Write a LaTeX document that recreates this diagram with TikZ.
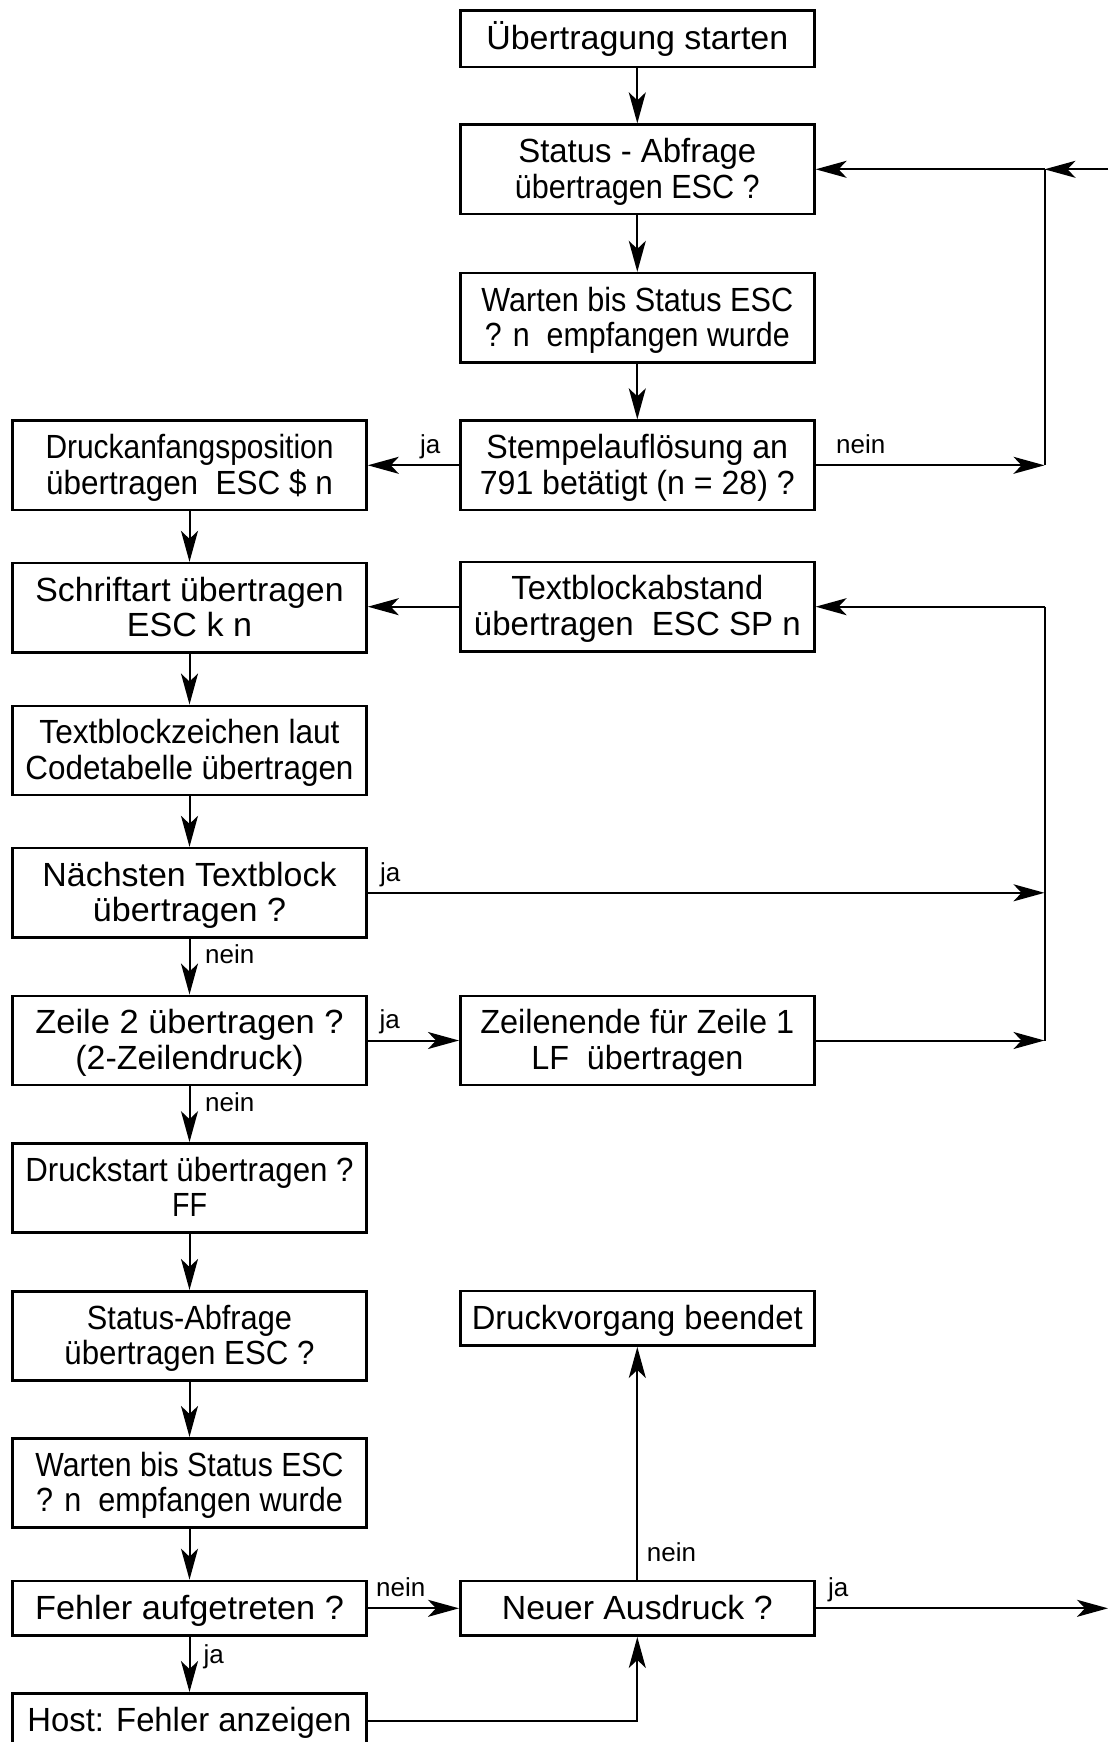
\documentclass[tikz,border=0pt]{standalone}
\usepackage{graphicx}
\usepackage{fontspec}
\setmainfont{Liberation Sans}
\usetikzlibrary{arrows.meta}
\newcommand\bt[1]{\begin{tabular}{@{}c@{}}\rule{0pt}{32.6pt}#1\end{tabular}}
\newcommand\fw[2]{\resizebox{#1pt}{\height}{#2}}
\tikzset{
  flowbox/.style={draw, line width=2.6pt, rectangle, minimum width=354pt,
    minimum height=89.3pt, inner sep=0pt, font=\fontsize{33.5}{35.5}\selectfont},
  conn/.style={line width=2pt},
  connarr/.style={line width=2pt, -{Stealth[length=31pt,width=17pt,inset=8pt]}},
  lbl/.style={inner sep=0pt, anchor=base west, font=\fontsize{26}{30}\selectfont}
}
\begin{document}
\begin{tikzpicture}[x=1pt,y=-1pt]
\fill[white] (0,0) rectangle (1108,1742);
\useasboundingbox (0,0) rectangle (1108,1742);
% boxes
\node[flowbox, minimum height=56.4pt] (start) at (637.3,38.9) {\bt{\fw{302}{Übertragung starten}}};
\node[flowbox] (stat1) at (637.3,169.3) {\bt{\fw{238}{Status - Abfrage}\\\fw{245}{übertragen ESC ?}}};
\node[flowbox] (wait1) at (637.3,317.8) {\bt{\fw{311.7}{Warten bis Status ESC}\\\fw{305}{? n~~empfangen wurde}}};
\node[flowbox] (stempel) at (637.3,465.3) {\bt{\fw{301.7}{Stempelauflösung an}\\\fw{315}{791 betätigt (n = 28) ?}}};
\node[flowbox] (druckanf) at (189.5,465.3) {\bt{\fw{288}{Druckanfangsposition}\\\fw{286.7}{übertragen~~ESC \$ n}}};
\node[flowbox] (schrift) at (189.5,607.8) {\bt{\fw{308.3}{Schriftart übertragen}\\\fw{125}{ESC k n}}};
\node[flowbox] (textabst) at (637.3,606.7) {\bt{\fw{251.7}{Textblockabstand}\\\fw{326.7}{übertragen~~ESC SP n}}};
\node[flowbox] (textz) at (189.5,750.5) {\bt{\fw{300}{Textblockzeichen laut}\\\fw{328}{Codetabelle übertragen}}};
\node[flowbox] (naechst) at (189.5,892.8) {\bt{\fw{294}{Nächsten Textblock}\\\fw{193.3}{übertragen ?}}};
\node[flowbox] (zeile2) at (189.5,1040.5) {\bt{\fw{308.3}{Zeile 2 übertragen ?}\\\fw{228.3}{(2-Zeilendruck)}}};
\node[flowbox] (zende) at (637.3,1040.5) {\bt{\fw{314}{Zeilenende für Zeile 1}\\\fw{212}{LF~~übertragen}}};
\node[flowbox] (dstart) at (189.5,1188.1) {\bt{\fw{328.3}{Druckstart übertragen ?}\\\fw{35}{FF}}};
\node[flowbox] (stat2) at (189.5,1335.9) {\bt{\fw{205}{Status-Abfrage}\\\fw{250}{übertragen ESC ?}}};
\node[flowbox, minimum height=54.7pt] (dende) at (637.3,1318.3) {\bt{\fw{331}{Druckvorgang beendet}}};
\node[flowbox] (wait2) at (189.5,1482.9) {\bt{\fw{308}{Warten bis Status ESC}\\\fw{306.7}{? n~~empfangen wurde}}};
\node[flowbox, minimum height=54.7pt] (fehler) at (189.5,1608.3) {\bt{\fw{308.8}{Fehler aufgetreten ?}}};
\node[flowbox, minimum height=54.7pt] (neuer) at (637.3,1608.3) {\bt{\fw{270.7}{Neuer Ausdruck ?}}};
\node[flowbox, minimum height=54.7pt] (host) at (189.5,1720.7) {\bt{\fw{324}{Host: Fehler anzeigen}}};
% helper coordinates
\coordinate (r1) at (1044.5,169.3);
\coordinate (rin) at (1108,169.3);
\coordinate (r3) at (1044.5,606.7);
\coordinate (rout) at (1108,1608.3);
% connectors
\draw[connarr] (start) -- (stat1);
\draw[connarr] (stat1) -- (wait1);
\draw[connarr] (wait1) -- (stempel);
\draw[connarr] (stempel) -- (druckanf);
\draw[connarr] (stempel.east) -- (stempel.east -| r1);
\draw[conn] (r1) -- (r1 |- stempel.east);
\draw[connarr] (rin) -- (r1);
\draw[connarr] (r1) -- (stat1.east);
\draw[connarr] (druckanf) -- (schrift);
\draw[connarr] (textabst.west) -- (textabst.west -| schrift.east);
\draw[connarr] (schrift) -- (textz);
\draw[connarr] (textz) -- (naechst);
\draw[connarr] (naechst) -- (zeile2);
\draw[connarr] (naechst.east) -- (naechst.east -| r3);
\draw[connarr] (zeile2) -- (zende);
\draw[connarr] (zende.east) -- (zende.east -| r3);
\draw[conn] (r3) -- (r3 |- zende.east);
\draw[connarr] (r3) -- (textabst.east);
\draw[connarr] (zeile2) -- (dstart);
\draw[connarr] (dstart) -- (stat2);
\draw[connarr] (stat2) -- (wait2);
\draw[connarr] (wait2) -- (fehler);
\draw[connarr] (fehler) -- (host);
\draw[connarr] (fehler) -- (neuer);
\draw[connarr] (neuer) -- (dende);
\draw[connarr] (neuer.east) -- (rout);
\draw[connarr] (host.east) -| (neuer.south);
% labels
\node[lbl] (l1) at (420,453.5) {ja};
\node[lbl] (l2) at (836,453.6) {nein};
\node[lbl] (l3) at (380,881) {ja};
\node[lbl] (l4) at (205,963) {nein};
\node[lbl] (l5) at (379.5,1028.6) {ja};
\node[lbl] (l6) at (205,1111.5) {nein};
\node[lbl] (l7) at (376,1596) {nein};
\node[lbl] (l8) at (203.5,1663.9) {ja};
\node[lbl] (l9) at (646.7,1561.7) {nein};
\node[lbl] (l10) at (828,1596) {ja};
\end{tikzpicture}
\end{document}
